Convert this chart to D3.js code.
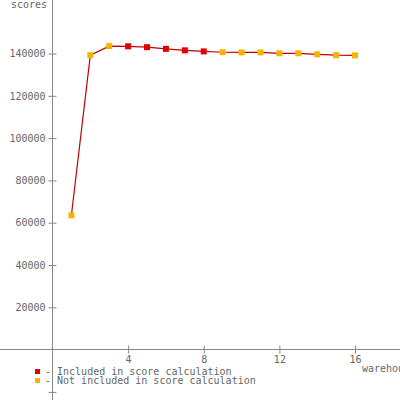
<!DOCTYPE html>
<html>
<head>
<meta charset="utf-8">
<script src="https://cdn.jsdelivr.net/npm/d3@7"></script>
<style>
  body { margin: 0; background: #fff; }
  svg { display: block; }
  text { font-family: "DejaVu Sans Mono", monospace; font-size: 10px; fill: #666; }
</style>
</head>
<body>
<div id="chart"></div>
<script>
let svgWidth = 400;
let svgHeight = 400;

// warehouses 1..16
let warehouses = [1, 2, 3, 4, 5, 6, 7, 8, 9, 10, 11, 12, 13, 14, 15, 16];
let scores = [63500, 139200, 143500, 143400, 143000, 142200, 141500, 141000,
  140600, 140500, 140500, 140100, 140100, 139600, 139200, 139100];
let included = [false, false, false, true, true, true, true, true,
  false, false, false, false, false, false, false, false];

let xTicks = [4, 8, 12, 16];
let yTicks = [-20000, 20000, 40000, 60000, 80000, 100000, 120000, 140000];
let legendLabels = ["Included in score calculation", "Not included in score calculation"];
let legendColors = ["#e00000", "#f5b400"];

let data = warehouses.map((w, i) => ({ w: w, s: scores[i], inc: included[i] }));

let x = d3.scaleLinear()
  .domain([0, 16])
  .range([52.5, 355]);

let y = d3.scaleLinear()
  .domain([0, 140000])
  .range([349.6, 53.5]);

let svg = d3.select("#chart")
  .append("svg")
  .attr("width", svgWidth)
  .attr("height", svgHeight);

// axis lines
svg.append("line")
  .attr("x1", 0).attr("x2", svgWidth)
  .attr("y1", y(0)).attr("y2", y(0))
  .attr("stroke", "#888").attr("shape-rendering", "crispEdges");

svg.append("line")
  .attr("x1", x(0)).attr("x2", x(0))
  .attr("y1", 0).attr("y2", svgHeight)
  .attr("stroke", "#888").attr("shape-rendering", "crispEdges");

// y axis
let yAxis = svg.append("g")
  .attr("transform", "translate(" + x(0) + ",0)")
  .call(d3.axisLeft(y).tickValues(yTicks).tickSize(4)
    .tickFormat(d => d < 0 ? "" : d));
yAxis.select(".domain").remove();
yAxis.selectAll(".tick line").attr("x1", 4).attr("x2", -4).attr("stroke", "#888");
yAxis.selectAll(".tick text")
  .attr("x", -7)
  .attr("fill", "#666")
  .style("font-family", "DejaVu Sans Mono, monospace")
  .style("font-size", "10px");

// x axis
let xAxis = svg.append("g")
  .attr("transform", "translate(0," + y(0) + ")")
  .call(d3.axisBottom(x).tickValues(xTicks).tickSize(4));
xAxis.select(".domain").remove();
xAxis.selectAll(".tick line").attr("y1", -4).attr("y2", 4).attr("stroke", "#888");
xAxis.selectAll(".tick text")
  .attr("y", 6)
  .attr("fill", "#666")
  .style("font-family", "DejaVu Sans Mono, monospace")
  .style("font-size", "10px");

// axis titles
svg.append("text")
  .attr("x", 47).attr("y", 8)
  .attr("text-anchor", "end")
  .text("scores");

svg.append("text")
  .attr("x", 362).attr("y", 372)
  .text("warehouses");

// line
let line = d3.line()
  .x(d => x(d.w))
  .y(d => y(d.s));

svg.append("path")
  .datum(data)
  .attr("d", line)
  .attr("fill", "none")
  .attr("stroke", "#c00000")
  .attr("stroke-width", 1.2);

// markers
svg.selectAll(".pt")
  .data(data)
  .enter()
  .append("rect")
    .attr("class", "pt")
    .attr("x", d => x(d.w) - 3)
    .attr("y", d => y(d.s) - 3)
    .attr("width", 6)
    .attr("height", 6)
    .attr("fill", d => d.inc ? legendColors[0] : legendColors[1]);

// legend
let legend = svg.selectAll(".legend")
  .data(legendLabels)
  .enter()
  .append("g")
  .attr("class", "legend")
  .attr("transform", (d, i) => "translate(0," + (375 + i * 9) + ")");

legend.append("rect")
  .attr("x", 35).attr("y", -6)
  .attr("width", 5).attr("height", 5)
  .attr("fill", (d, i) => legendColors[i]);

legend.append("text")
  .attr("x", 45).attr("y", 0)
  .text(d => "- " + d);
</script>
</body>
</html>
